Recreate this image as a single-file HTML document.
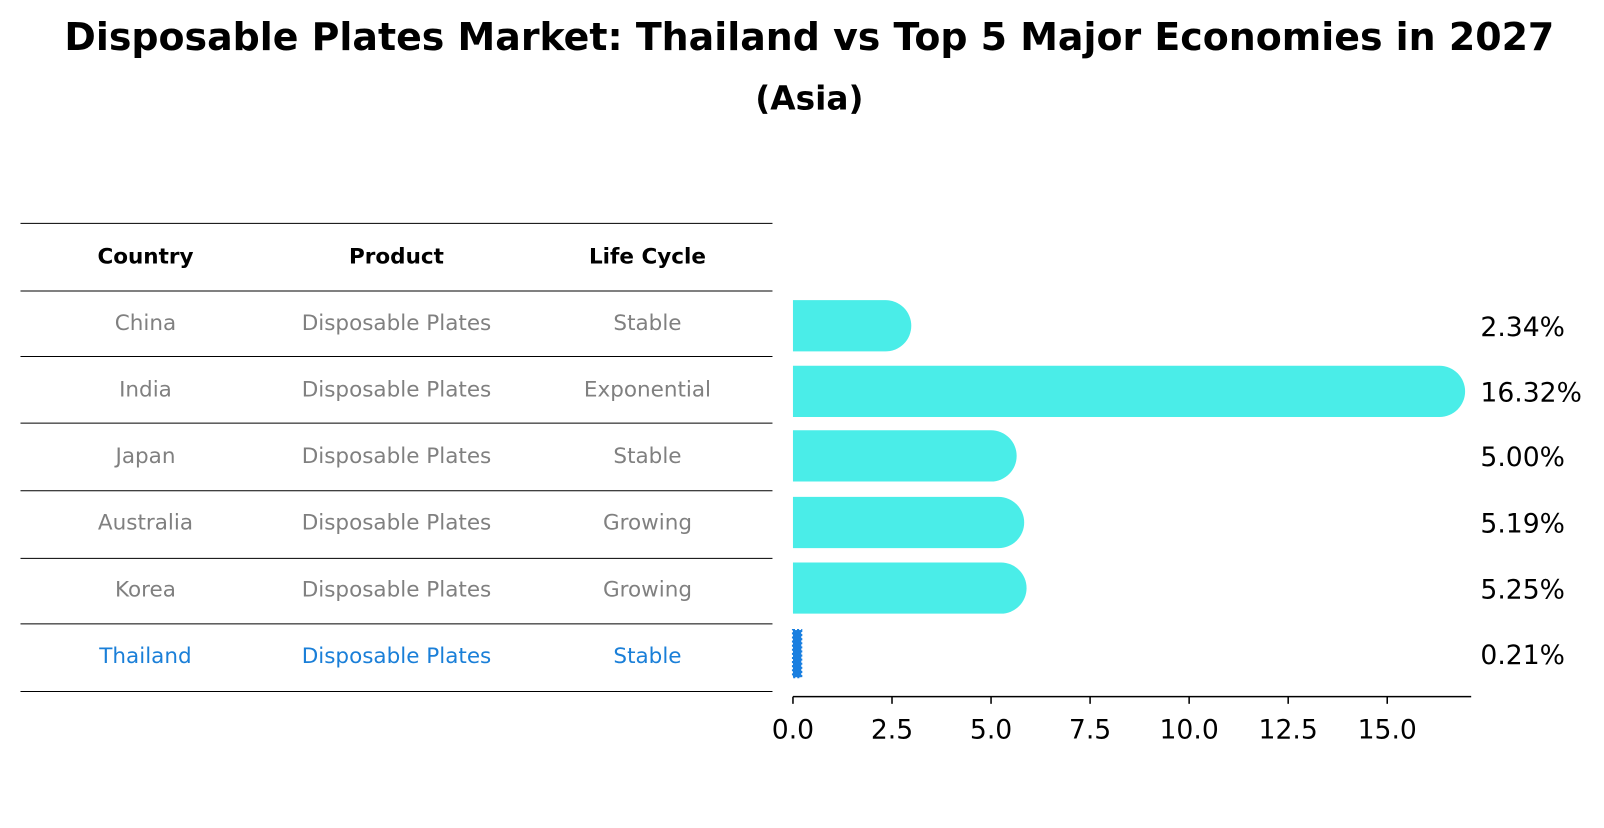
<!DOCTYPE html>
<html><head><meta charset="utf-8"><style>
body{margin:0;background:#fff;font-family:"Liberation Sans","DejaVu Sans",sans-serif}
</style></head><body>
<svg width="1604" height="823" xmlns="http://www.w3.org/2000/svg" font-family="DejaVu Sans, Liberation Sans, sans-serif">
<g transform="scale(1.0245)">
<text x="790" y="49" text-anchor="middle" font-size="37" font-weight="bold">Disposable Plates Market: Thailand vs Top 5 Major Economies in 2027</text>
<text x="790" y="107" text-anchor="middle" font-size="32" font-weight="bold">(Asia)</text>
<g id="table"></g>
<g id="bars"></g>
</g>
</svg>
<script>
const countries=["China","India","Japan","Australia","Korea","Thailand"];
const products=["Disposable Plates","Disposable Plates","Disposable Plates","Disposable Plates","Disposable Plates","Disposable Plates"];
const lifecycles=["Stable","Exponential","Stable","Growing","Growing","Stable"];
const values=[2.34,16.32,5.00,5.19,5.25,0.21];
const ticks=[0,2.5,5,7.5,10,12.5,15];
const NS="http://www.w3.org/2000/svg";
function mk(t,a,p,txt){const e=document.createElementNS(NS,t);for(const k in a)e.setAttribute(k,a[k]);if(txt!==undefined)e.textContent=txt;p.appendChild(e);return e;}
const tb=document.getElementById('table'), bg=document.getElementById('bars');
const lines=[218,284,348,413,479,545,609,675];
lines.forEach(y=>{const l=mk('line',{x1:20,x2:754,y1:y,y2:y,stroke:'#000','stroke-width':1},tb);

});
const cx=[142,387,632];
["Country","Product","Life Cycle"].forEach((h,i)=>{const t=mk('text',{x:cx[i],y:257,'text-anchor':'middle','font-size':21,'font-weight':'bold'},tb,h);

});
const x0=774, ppu=38.67;
function xs(v){return x0+v*ppu;}
const rowC=[318,382,445,510,574,638];
countries.forEach((c,i)=>{
 const col=i===5?'#1a7fd8':'#808080';
 const ty=[315,380,445,510,575,640][i]+7;
 [c,products[i],lifecycles[i]].forEach((s,j)=>{const t=mk('text',{x:cx[j],y:ty,'text-anchor':'middle','font-size':21,fill:col},tb,s);
 
 });
 const yc=rowC[i], h=50, w=xs(values[i])-x0;
 if(i<5){
  const p=mk('path',{d:`M${x0},${yc-h/2} h${w} a25,25 0 0 1 0,50 h${-w} Z`,fill:'#4aede8'},bg);
  
  
 } else {
  const p=mk('rect',{x:x0,y:yc-h/2+2,width:Math.max(w,8),height:h-4,fill:'#1a7fe0',stroke:'#1a7fe0','stroke-dasharray':'2,2','stroke-width':2},bg);
  
  
 }
 const lb=mk('text',{x:1445,y:yc+10,'font-size':26},bg,values[i].toFixed(2)+'%');
 
 
});
const ax=mk('line',{x1:x0,x2:1436,y1:680,y2:680,stroke:'#000','stroke-width':1.5},bg);


ticks.forEach(t=>{const x=xs(t);
 const l=mk('line',{x1:x,x2:x,y1:680,y2:687,stroke:'#000','stroke-width':1.5},bg);
 
 
 const tx=mk('text',{x:x,y:721,'text-anchor':'middle','font-size':26},bg,t.toFixed(1));
 
 });
</script>
</body></html>
